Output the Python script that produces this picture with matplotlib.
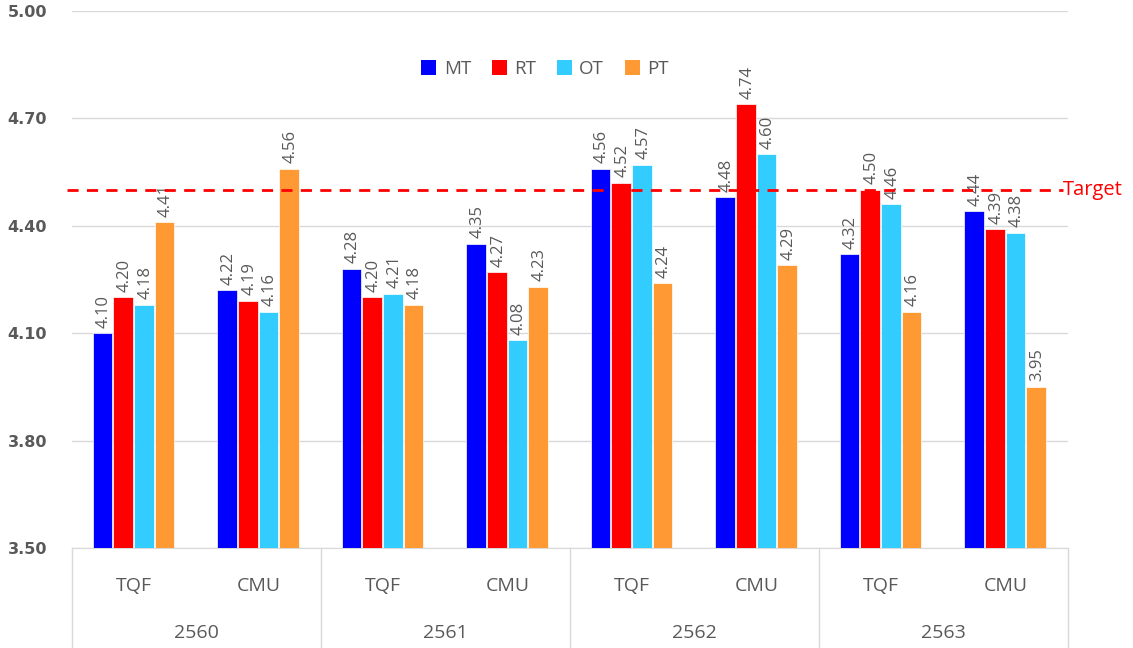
import matplotlib
matplotlib.use("Agg")
import matplotlib.pyplot as plt
import numpy as np
from matplotlib.patches import Patch

years = ["2560", "2561", "2562", "2563"]
subcats = ["TQF", "CMU"]
series = ["MT", "RT", "OT", "PT"]
MT = [4.10, 4.22, 4.28, 4.35, 4.56, 4.48, 4.32, 4.44]
RT = [4.20, 4.19, 4.20, 4.27, 4.52, 4.74, 4.50, 4.39]
OT = [4.18, 4.16, 4.21, 4.08, 4.57, 4.60, 4.46, 4.38]
PT = [4.41, 4.56, 4.18, 4.23, 4.24, 4.29, 4.16, 3.95]
target = 4.50
yticks = [3.50, 3.80, 4.10, 4.40, 4.70, 5.00]
colors = ["#0000FF", "#FF0000", "#33CCFF", "#FF9933"]

plt.rcParams['font.family'] = ['Open Sans', 'DejaVu Sans']
gray = "#595959"

fig = plt.figure(figsize=(11.33, 6.48), dpi=100)
ax = fig.add_axes([72/1133, 100/648, (1068-72)/1133, (548-11)/648])

data = [MT, RT, OT, PT]
n = len(MT)
x = np.arange(n) + 0.5
step = 0.166
w = 0.158
for k, (vals, c) in enumerate(zip(data, colors)):
    pos = x + (k - 1.5) * step - 0.005
    ax.bar(pos, np.array(vals) - 3.5, bottom=3.5, width=w, color=c,
           edgecolor="white", linewidth=0.5, zorder=3)
    for px, v in zip(pos, vals):
        ax.annotate(f"{v:.2f}", (px, v), xytext=(1, 4), textcoords="offset points",
                    rotation=90, ha="center", va="bottom", fontsize=12,
                    color=gray, zorder=4)

ax.set_xlim(0, n)
ax.set_ylim(3.5, 5.0)
ax.set_yticks(yticks)
ax.set_yticklabels([f"{t:.2f}" for t in yticks], fontsize=11.5, color=gray,
                   fontweight="bold", family="DejaVu Sans")
ax.tick_params(axis="y", length=0, pad=18)
ax.tick_params(axis="x", length=0, labelbottom=False)
ax.grid(axis="y", color="#d9d9d9", linewidth=1, zorder=0)
for s in ["top", "right", "left"]:
    ax.spines[s].set_visible(False)
ax.spines["bottom"].set_color("#d9d9d9")

# target line
ax.plot([-0.005, 0.995], [target, target], transform=ax.get_yaxis_transform(),
        color="#FF0000", linestyle=(0, (4, 3)), linewidth=2, zorder=5, clip_on=False)
ax.text(0.995, target, "Target", transform=ax.get_yaxis_transform(),
        color="#FF0000", fontsize=14.5, va="center", ha="left", clip_on=False)

# category axis
trans = ax.get_xaxis_transform()
sep_bottom = -100/537
for b in range(0, n + 1, 2):
    ax.plot([b, b], [0, sep_bottom], transform=trans, color="#d9d9d9",
            linewidth=1, clip_on=False)
for i in range(n):
    ax.text(i + 0.5, -38/537, subcats[i % 2], transform=trans, ha="center",
            va="center", fontsize=14, color=gray)
for j, yr in enumerate(years):
    ax.text(2 * j + 1, -85/537, yr, transform=trans, ha="center",
            va="center", fontsize=14, color=gray)

handles = [Patch(facecolor=c, label=s) for c, s in zip(colors, series)]
leg = fig.legend(handles=handles, loc="center", bbox_to_anchor=(545/1133, 1 - 69/648),
                 ncol=4, frameon=False, fontsize=13.5, handlelength=0.8,
                 handleheight=0.8, handletextpad=0.4, columnspacing=1.1)
for t in leg.get_texts():
    t.set_color(gray)

fig.savefig("out.png", dpi=100)
